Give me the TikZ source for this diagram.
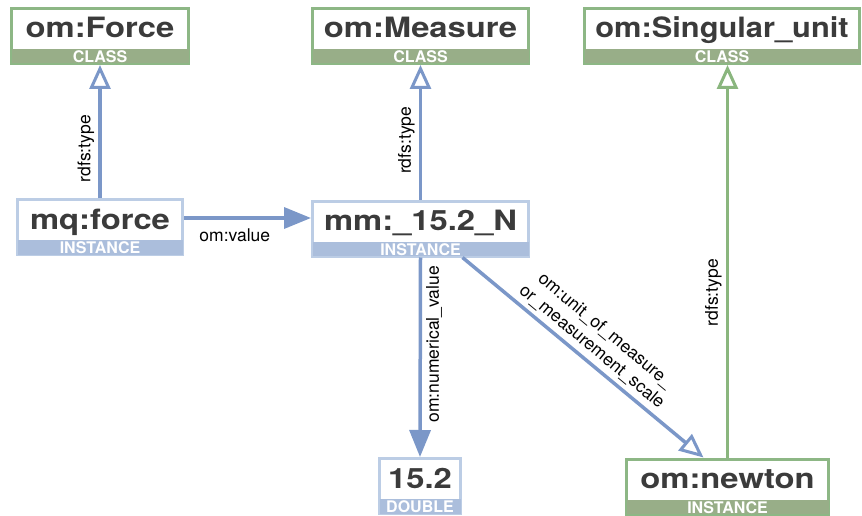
\documentclass[tikz,border=0pt]{standalone}
\usepackage{graphicx}
\usepackage{fontspec}
\setmainfont{TeX Gyre Heros}
\usetikzlibrary{arrows.meta}

\definecolor{linkblue}{HTML}{7B97C8}
\definecolor{linkgreen}{HTML}{8AB67E}
\definecolor{instline}{HTML}{BCCDE5}
\definecolor{instbar}{HTML}{ABBEDC}
\definecolor{clsline}{HTML}{8DB785}
\definecolor{clsbar}{HTML}{98AE88}
\definecolor{ink}{HTML}{3B3B3B}

\tikzset{
  clsbox/.style={draw=clsline, line width=3pt, fill=white, minimum height=55pt, inner sep=0pt},
  instbox/.style={draw=instline, line width=3pt, fill=white, minimum height=55pt, inner sep=0pt},
  title/.style={anchor=base, text=ink, inner sep=0pt, font=\fontsize{28}{30}\selectfont\bfseries},
  tag/.style={anchor=base, text=white, inner sep=0pt, font=\fontsize{16}{18}\selectfont\bfseries},
  lbl/.style={text=black, inner sep=4pt, font=\fontsize{17.5}{21}\selectfont},
  isa/.style={line width=3.5pt, -{Triangle[fill=white, length=24pt, width=21pt, line width=3pt]}},
  rel/.style={draw=linkblue, line width=3.5pt, -{Triangle[length=27pt, width=21pt]}},
}

% box style, bar colour, name, centre, width, title, title stretch, tag
\newcommand{\entity}[8]{%
  \node[#1, minimum width=#5] (#3) at (#4) {};
  \fill[#2] ([shift={(1.5pt,1.5pt)}]#3.south west) rectangle ([shift={(-1.5pt,16pt)}]#3.south east);
  \node[title] (#3-title) at ([yshift=-31pt]#3.north) {\scalebox{#7}[1]{#6}};
  \node[tag] (#3-tag) at ([yshift=2.5pt]#3.south) {#8};
}

\begin{document}
\begin{tikzpicture}
\useasboundingbox (0,0) rectangle (862pt,-516pt);

% classes
\entity{clsbox}{clsbar}{force}{100pt,-36pt}{177pt}{om:Force}{1.17}{CLASS}
\entity{clsbox}{clsbar}{measure}{420.5pt,-36pt}{216pt}{om:Measure}{1.17}{CLASS}
\entity{clsbox}{clsbar}{singular}{722pt,-36pt}{275pt}{om:Singular\_unit}{1.1}{CLASS}

% instances
\entity{instbox}{instbar}{mqforce}{100pt,-227pt}{165pt}{mq:force}{1.17}{INSTANCE}
\entity{instbox}{instbar}{mm}{420.5pt,-228.5pt}{216pt}{mm:\_15.2\_N}{1.17}{INSTANCE}
\entity{instbox}{instbar}{value}{420pt,-486pt}{81pt}{15.2}{1.17}{DOUBLE}
\entity{clsbox}{clsbar}{newton}{727.5pt,-486.5pt}{202pt}{om:newton}{1.17}{INSTANCE}

% rdfs:type
\draw[isa, draw=linkblue] (mqforce.north) -- (force.south)
  node[lbl, pos=0.37, rotate=90, anchor=south] (t1) {rdfs:type};
\draw[isa, draw=linkblue] (mm.north) -- (measure.south)
  node[lbl, pos=0.44, rotate=90, anchor=south] (t2) {rdfs:type};
\draw[isa, draw=linkgreen] (newton.north) -- (newton.north |- singular.south)
  node[lbl, pos=0.42, rotate=90, anchor=south] (t3) {rdfs:type};

% properties
\draw[rel] ([yshift=9pt]mqforce.east) -- ([yshift=9pt]mqforce.east -| mm.west)
  node[lbl, pos=0.4, below=5pt] (p1) {om:value};
\draw[rel] (mm.south) -- (value.north)
  node[lbl, pos=0.435, rotate=90, anchor=north] (p2) {om:numerical\_value};
\draw[isa, draw=linkblue] ([xshift=42pt]mm.south) -- ([xshift=-24pt]newton.north)
  node[lbl, midway, sloped, above, align=center] (p3) {om:unit\_of\_measure\_\\or\_measurement\_scale};
\end{tikzpicture}
\end{document}
